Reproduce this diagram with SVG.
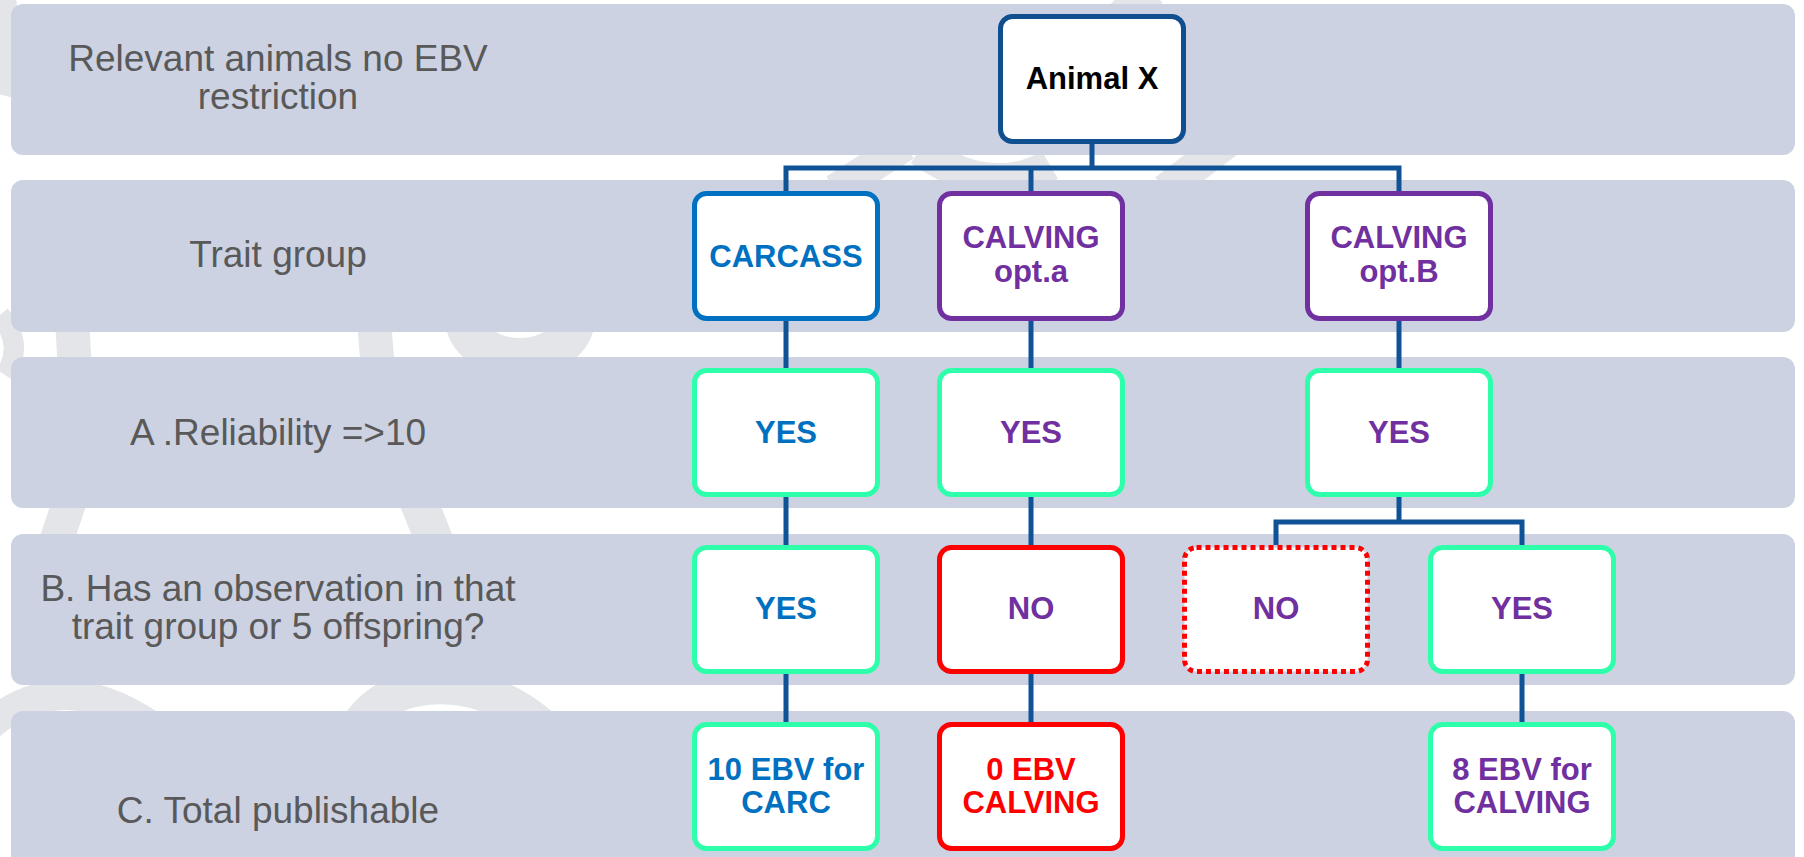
<svg xmlns="http://www.w3.org/2000/svg" width="1804" height="857" viewBox="0 0 1804 857">
<style>
.band{fill:#CCD2E2}
.wm{fill:none;stroke:#E4E5E8;stroke-linecap:butt}
.lbl{font-family:"Liberation Sans",Arial,sans-serif;font-size:37px;fill:#595959;text-anchor:middle}
.box{fill:#FFFFFF;stroke-width:5}
.t{font-family:"Liberation Sans",Arial,sans-serif;font-size:31px;font-weight:bold;text-anchor:middle}
.conn{fill:none;stroke:#0F5296;stroke-width:5;stroke-linejoin:miter}
.blue{fill:#0070C0}.purple{fill:#7030A0}.red{fill:#FF0000}.black{fill:#000000}
.sBlue{stroke:#0070C0}.sPurple{stroke:#7030A0}.sGreen{stroke:#2EFFAA}.sRed{stroke:#FF0000}.sDark{stroke:#0F4F8F}
</style>
<rect width="1804" height="857" fill="#FFFFFF"/>
<g id="watermark">
<path class="wm" stroke-width="20" d="M4 -10 Q16 40 2 95"/>
<path class="wm" stroke-width="32" d="M835 190 L905 145"/>
<path class="wm" stroke-width="32" d="M920 150 Q990 200 1050 165"/>
<path class="wm" stroke-width="32" d="M1165 190 L1230 140"/>
<path class="wm" stroke-width="36" d="M1120 20 L1150 -10"/>
<path class="wm" stroke-width="20" d="M0 315 Q25 345 5 375"/>
<path class="wm" stroke-width="34" d="M72 320 L75 370"/>
<path class="wm" stroke-width="34" d="M374 320 L378 370"/>
<ellipse class="wm" stroke-width="40" cx="520" cy="318" rx="55" ry="40"/>
<path class="wm" stroke-width="34" d="M70 500 L55 545"/>
<path class="wm" stroke-width="38" d="M418 500 L436 545"/>
<path class="wm" stroke-width="30" d="M-10 725 Q60 665 150 725"/>
<path class="wm" stroke-width="36" d="M355 735 C375 680 470 665 540 725"/>
</g>
<g id="bands">
<rect class="band" x="11" y="4" width="1784" height="151" rx="12"/>
<rect class="band" x="11" y="180" width="1784" height="152" rx="12"/>
<rect class="band" x="11" y="357" width="1784" height="151" rx="12"/>
<rect class="band" x="11" y="534" width="1784" height="151" rx="12"/>
<rect class="band" x="11" y="711" width="1784" height="170" rx="12"/>
</g>
<g id="labels">
<text class="lbl" x="278" y="71">Relevant animals no EBV</text>
<text class="lbl" x="278" y="109">restriction</text>
<text class="lbl" x="278" y="267">Trait group</text>
<text class="lbl" x="278" y="445">A .Reliability =&gt;10</text>
<text class="lbl" x="278" y="601">B. Has an observation in that</text>
<text class="lbl" x="278" y="639">trait group or 5 offspring?</text>
<text class="lbl" x="278" y="823">C. Total publishable</text>
</g>
<g id="connectors">
<path class="conn" d="M1092 144 V168 M786 191 V168 H1399 V191 M1031 168 V191"/>
<path class="conn" d="M786 321 V368 M786 497 V545 M786 674 V722"/>
<path class="conn" d="M1031 321 V368 M1031 497 V545 M1031 674 V722"/>
<path class="conn" d="M1399 321 V368 M1399 497 V522 M1276 545 V522 H1522 V545 M1522 674 V722"/>
</g>
<g id="animal-x"><rect class="box sDark" x="1000.5" y="16.5" width="183" height="125" rx="12"/><text class="t black" x="1092" y="89">Animal X</text></g>
<g id="carcass"><rect class="box sBlue" x="694.5" y="193.5" width="183" height="125" rx="12"/><text class="t blue" x="786" y="267">CARCASS</text></g>
<g id="calving-a"><rect class="box sPurple" x="939.5" y="193.5" width="183" height="125" rx="12"/><text class="t purple" x="1031" y="248">CALVING</text><text class="t purple" x="1031" y="282">opt.a</text></g>
<g id="calving-b"><rect class="box sPurple" x="1307.5" y="193.5" width="183" height="125" rx="12"/><text class="t purple" x="1399" y="248">CALVING</text><text class="t purple" x="1399" y="282">opt.B</text></g>
<g id="carcass-a"><rect class="box sGreen" x="694.5" y="370.5" width="183" height="124" rx="12"/><text class="t blue" x="786" y="443">YES</text></g>
<g id="calving-a-a"><rect class="box sGreen" x="939.5" y="370.5" width="183" height="124" rx="12"/><text class="t purple" x="1031" y="443">YES</text></g>
<g id="calving-b-a"><rect class="box sGreen" x="1307.5" y="370.5" width="183" height="124" rx="12"/><text class="t purple" x="1399" y="443">YES</text></g>
<g id="carcass-b"><rect class="box sGreen" x="694.5" y="547.5" width="183" height="124" rx="12"/><text class="t blue" x="786" y="619">YES</text></g>
<g id="calving-a-b"><rect class="box sRed" x="939.5" y="547.5" width="183" height="124" rx="12"/><text class="t purple" x="1031" y="619">NO</text></g>
<g id="calving-b-no"><rect class="box sRed" stroke-width="4" stroke-dasharray="5 4" x="1184.5" y="547.5" width="183" height="124" rx="12"/><text class="t purple" x="1276" y="619">NO</text></g>
<g id="calving-b-yes"><rect class="box sGreen" x="1430.5" y="547.5" width="183" height="124" rx="12"/><text class="t purple" x="1522" y="619">YES</text></g>
<g id="carcass-c"><rect class="box sGreen" x="694.5" y="724.5" width="183" height="124" rx="12"/><text class="t blue" x="786" y="780">10 EBV for</text><text class="t blue" x="786" y="813">CARC</text></g>
<g id="calving-a-c"><rect class="box sRed" x="939.5" y="724.5" width="183" height="124" rx="12"/><text class="t red" x="1031" y="780">0 EBV</text><text class="t red" x="1031" y="813">CALVING</text></g>
<g id="calving-b-c"><rect class="box sGreen" x="1430.5" y="724.5" width="183" height="124" rx="12"/><text class="t purple" x="1522" y="780">8 EBV for</text><text class="t purple" x="1522" y="813">CALVING</text></g>
</svg>
